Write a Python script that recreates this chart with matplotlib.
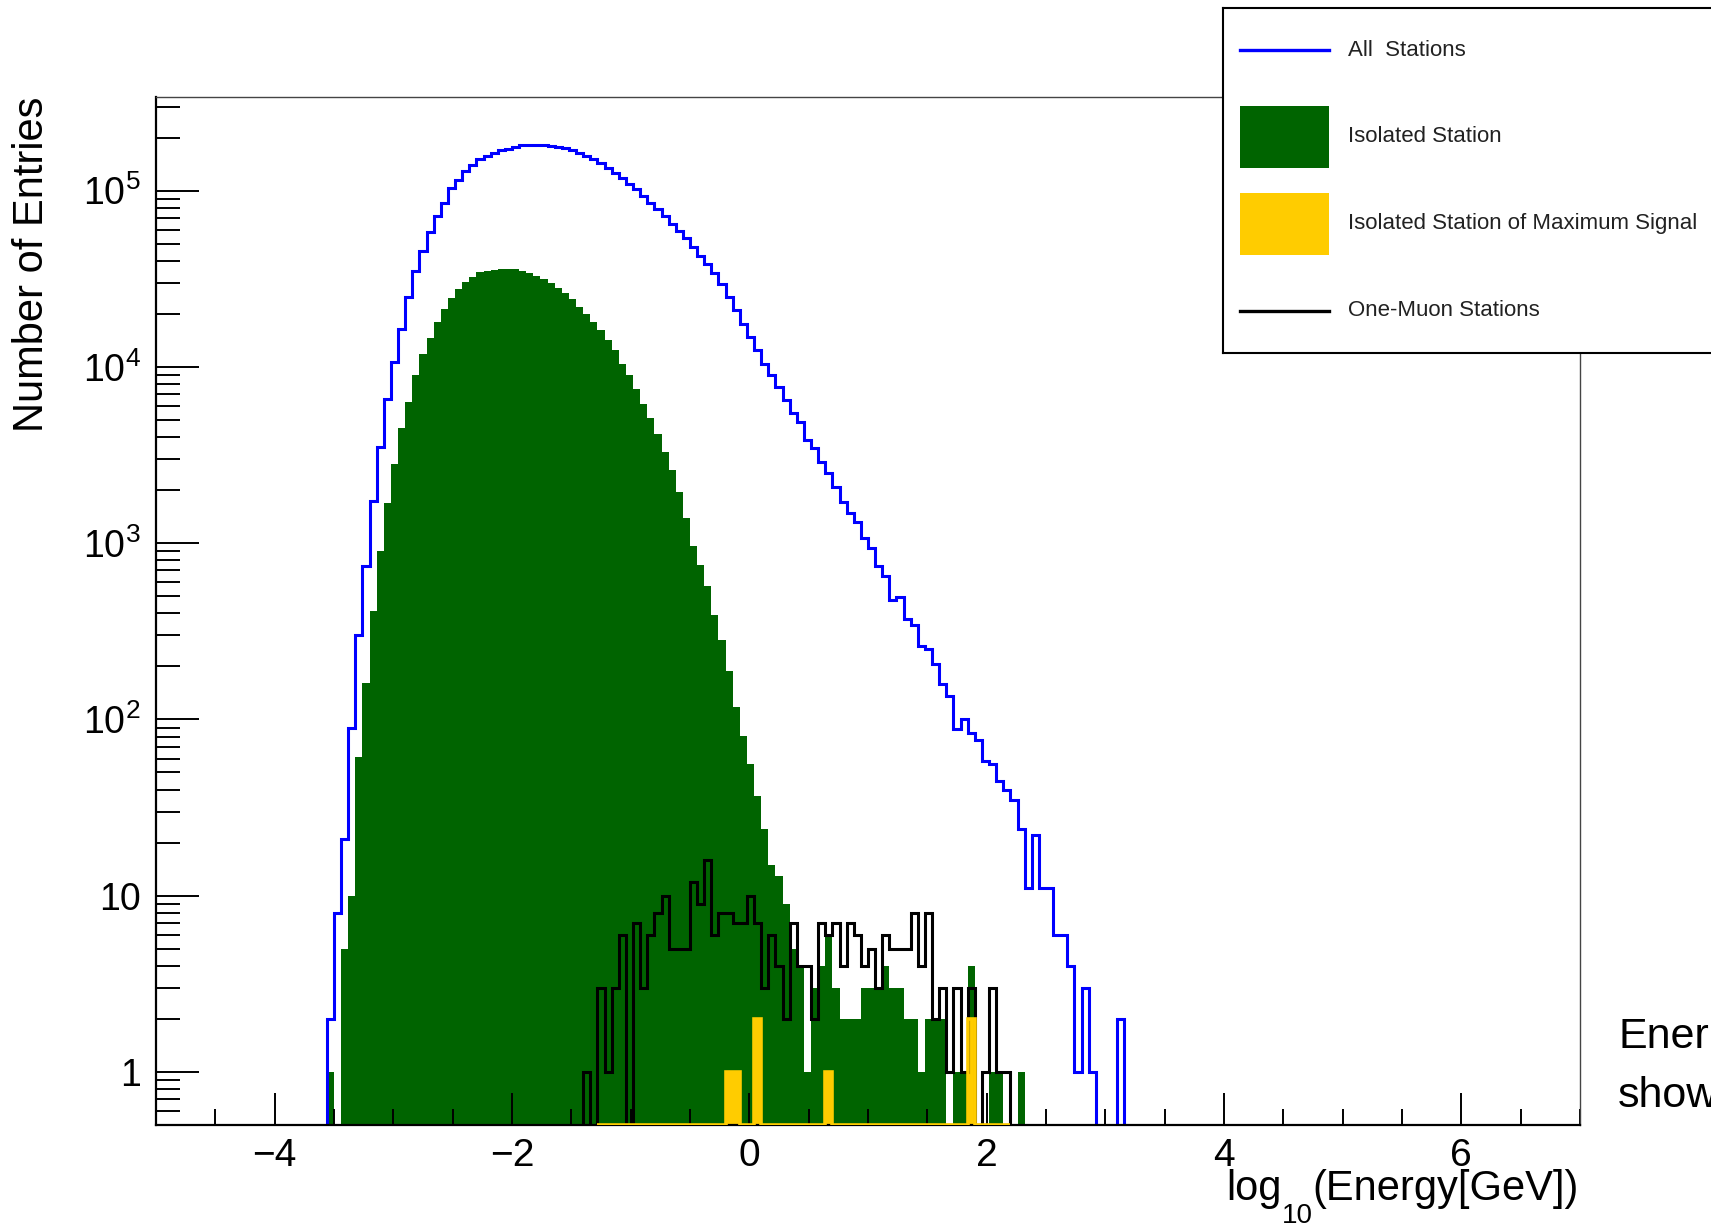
#!/usr/bin/env python3
"""Energy spectra of stations: all, isolated, isolated with max signal, one-muon."""

import matplotlib
matplotlib.use("Agg")
import matplotlib.pyplot as plt
import numpy as np
from matplotlib.patches import Rectangle
from matplotlib.ticker import FuncFormatter, LogLocator, MultipleLocator, NullFormatter

# histogram binning in log10(E/GeV)
BIN_LOW = -5.0
BIN_WIDTH = 0.06

# all stations, bins 24..135
ALL_FIRST_BIN = 24
ALL_COUNTS = [
    2, 8, 21, 90, 303, 745, 1745, 3520, 6620, 10660,
    16470, 24840, 35190, 45640, 57950, 71970, 85680, 103300, 115100, 129400,
    139400, 150700, 157300, 164300, 169500, 173000, 177600, 180800, 181500, 181000,
    180500, 179500, 177000, 173500, 169500, 164300, 157300, 150700, 143100, 135200,
    126600, 117700, 108900, 101900, 93500, 85680, 78600, 71970, 65100, 59300,
    53900, 47660, 42760, 38390, 34000, 29500, 25000, 21000, 17500, 14800,
    12410, 10440, 8960, 7690, 6530, 5445, 4880, 3845, 3450, 2900,
    2490, 2094, 1720, 1480, 1327, 1069, 938, 738, 648, 478,
    496, 369, 345, 261, 252, 205, 158, 135, 88, 100,
    84, 76, 58, 56, 45, 40, 35, 24, 11, 22,
    11, 11, 6, 6, 4, 1, 3, 1, 0, 0,
    0, 2,
]

# isolated stations, bins 24..121
ISOLATED_FIRST_BIN = 24
ISOLATED_COUNTS = [
    1, 0, 5, 10, 61, 162, 411, 898, 1700, 2800,
    4480, 6330, 8960, 11900, 14650, 17950, 21380, 24650, 27730, 30200,
    32230, 34420, 35190, 35500, 35980, 35980, 35800, 34900, 33960, 32960,
    31570, 29850, 27950, 26180, 24330, 21820, 20010, 17950, 16110, 14130,
    12410, 10440, 8960, 7540, 6200, 5100, 4150, 3300, 2600, 1950,
    1390, 958, 755, 569, 390, 282, 188, 118, 81, 56,
    37, 24, 15, 13, 9, 5, 4, 1, 3, 4,
    6, 3, 2, 2, 2, 3, 3, 3, 4, 3,
    3, 2, 2, 1, 2, 2, 2, 0, 1, 1,
    4, 0, 0, 1, 1, 0, 0, 1,
]

# isolated station of maximum signal, bins 62..119
MAXSIG_FIRST_BIN = 62
MAXSIG_COUNTS = [
    0, 0, 0, 0, 0, 0, 0, 0, 0, 0,
    0, 0, 0, 0, 0, 0, 0, 0, 1, 1,
    0, 0, 2, 0, 0, 0, 0, 0, 0, 0,
    0, 0, 1, 0, 0, 0, 0, 0, 0, 0,
    0, 0, 0, 0, 0, 0, 0, 0, 0, 0,
    0, 0, 2, 0, 0, 0, 0, 0,
]

# one-muon stations, bins 60..119
ONEMUON_FIRST_BIN = 60
ONEMUON_COUNTS = [
    1, 0, 3, 1, 3, 6, 0, 7, 3, 6,
    8, 10, 5, 5, 5, 12, 9, 16, 6, 8,
    8, 7, 7, 10, 7, 3, 6, 4, 2, 7,
    4, 4, 2, 7, 6, 7, 4, 7, 6, 4,
    5, 3, 6, 5, 5, 5, 8, 4, 8, 2,
    3, 1, 3, 1, 3, 0, 1, 3, 1, 1,
]

LEGEND_LABELS = ["All  Stations", "Isolated Station",
                 "Isolated Station of Maximum Signal", "One-Muon Stations"]
X_TITLE = ("log", "10", "(Energy[GeV])")
Y_TITLE = "Number of Entries"
SIDE_TEXT = ["Ener", "show"]

BLUE = "#0000ff"
GREEN = "#006400"
YELLOW = "#ffcc00"
Y_MIN, Y_MAX = 0.5, 3.4e5
FLOOR = 1e-3
W_PX, H_PX = 1711, 1226

plt.rcParams["font.family"] = ["Liberation Sans", "DejaVu Sans"]
plt.rcParams["mathtext.fontset"] = "custom"
plt.rcParams["mathtext.rm"] = "Liberation Sans"
plt.rcParams["mathtext.it"] = "Liberation Sans:italic"
plt.rcParams["axes.unicode_minus"] = True


def edges_for(first_bin, counts):
    return BIN_LOW + BIN_WIDTH * np.arange(first_bin, first_bin + len(counts) + 1)


def floored(counts, floor=FLOOR):
    vals = np.asarray(counts, dtype=float)
    return np.where(vals > 0, vals, floor)


def y_label(value, _pos):
    exp = int(round(np.log10(value)))
    if exp == 0:
        return "1"
    if exp == 1:
        return "10"
    return rf"$10^{{{exp}}}$"


fig = plt.figure(figsize=(W_PX / 100, H_PX / 100), dpi=100, facecolor="white")
ax = fig.add_axes([156 / W_PX, 101 / H_PX, 1424 / W_PX, 1028 / H_PX])

ax.stairs(floored(ISOLATED_COUNTS), edges_for(ISOLATED_FIRST_BIN, ISOLATED_COUNTS),
          fill=True, baseline=FLOOR, color=GREEN, lw=0, zorder=1)
ax.stairs(floored(MAXSIG_COUNTS), edges_for(MAXSIG_FIRST_BIN, MAXSIG_COUNTS),
          fill=True, baseline=FLOOR, color=YELLOW, lw=0, zorder=1.2)
ax.stairs(floored(ALL_COUNTS), edges_for(ALL_FIRST_BIN, ALL_COUNTS),
          baseline=FLOOR, color=BLUE, lw=2.2, zorder=2)
ax.stairs(floored(ONEMUON_COUNTS), edges_for(ONEMUON_FIRST_BIN, ONEMUON_COUNTS),
          baseline=FLOOR, color="black", lw=2.2, zorder=2.2)
# empty max-signal bins sit on the frame floor
ax.stairs(floored(MAXSIG_COUNTS, Y_MIN), edges_for(MAXSIG_FIRST_BIN, MAXSIG_COUNTS),
          baseline=None, color=YELLOW, lw=2.6, zorder=3)

ax.set_yscale("log")
ax.set_xlim(-5, 7)
ax.set_ylim(Y_MIN, Y_MAX)

ax.xaxis.set_major_locator(MultipleLocator(2))
ax.xaxis.set_minor_locator(MultipleLocator(0.5))
ax.yaxis.set_major_locator(LogLocator(base=10, numticks=20))
ax.yaxis.set_minor_locator(LogLocator(base=10, subs=np.arange(2, 10), numticks=20))
ax.yaxis.set_major_formatter(FuncFormatter(y_label))
ax.yaxis.set_minor_formatter(NullFormatter())

ax.tick_params(axis="x", which="major", direction="in", length=23, width=1.4,
               labelsize=28, pad=9, top=False)
ax.tick_params(axis="x", which="minor", direction="in", length=11.5, width=1.4, top=False)
ax.tick_params(axis="y", which="major", direction="in", length=31, width=1.4,
               labelsize=27, pad=11, right=False)
ax.tick_params(axis="y", which="minor", direction="in", length=17, width=1.4, right=False)

for side in ("left", "bottom"):
    ax.spines[side].set_linewidth(1.6)
for side in ("top", "right"):
    ax.spines[side].set_linewidth(1.0)
    ax.spines[side].set_color("#444444")

ax.set_ylabel(Y_TITLE, fontsize=30, loc="top", va="center")
ax.yaxis.set_label_coords(-0.087, 1.0)

# x title built right to left so the subscript can sit well below the baseline
fig.canvas.draw()
renderer = fig.canvas.get_renderer()
base_y = 1 - 1200 / H_PX
sub_y = 1 - 1223 / H_PX
tail = fig.text(1579 / W_PX, base_y, X_TITLE[2], fontsize=30, ha="right", va="baseline")
tail_box = tail.get_window_extent(renderer)
sub = fig.text(tail_box.x0 / W_PX, sub_y, X_TITLE[1], fontsize=20, ha="right", va="baseline")
sub_box = sub.get_window_extent(renderer)
fig.text(sub_box.x0 / W_PX, base_y, X_TITLE[0], fontsize=30, ha="right", va="baseline")

# legend box, partly running off the right edge
leg = fig.add_axes([1223 / W_PX, 873 / H_PX, 540 / W_PX, 345 / H_PX], zorder=5)
leg.set_xlim(1223, 1763)
leg.set_ylim(353, 8)
leg.set_xticks([])
leg.set_yticks([])
leg.set_facecolor("white")
for side in ("left", "top", "bottom"):
    leg.spines[side].set_linewidth(1.5)
leg.spines["right"].set_visible(False)

row_y = [50, 137, 224, 311]
leg.plot([1240, 1329], [row_y[0]] * 2, color=BLUE, lw=2.4)
leg.add_patch(Rectangle((1240, row_y[1] - 31), 89, 62, color=GREEN, lw=0))
leg.add_patch(Rectangle((1240, row_y[2] - 31), 89, 62, color=YELLOW, lw=0))
leg.plot([1240, 1329], [row_y[3]] * 2, color="black", lw=2.4)
for label, y in zip(LEGEND_LABELS, row_y):
    leg.text(1348, y, label, fontsize=16, va="center", ha="left", color="#222222")

fig.text(1618 / W_PX, 1 - 1048 / H_PX, SIDE_TEXT[0], fontsize=31, va="baseline", ha="left")
fig.text(1618 / W_PX, 1 - 1107 / H_PX, SIDE_TEXT[1], fontsize=31, va="baseline", ha="left")

fig.savefig("out.png", dpi=100, facecolor="white")
